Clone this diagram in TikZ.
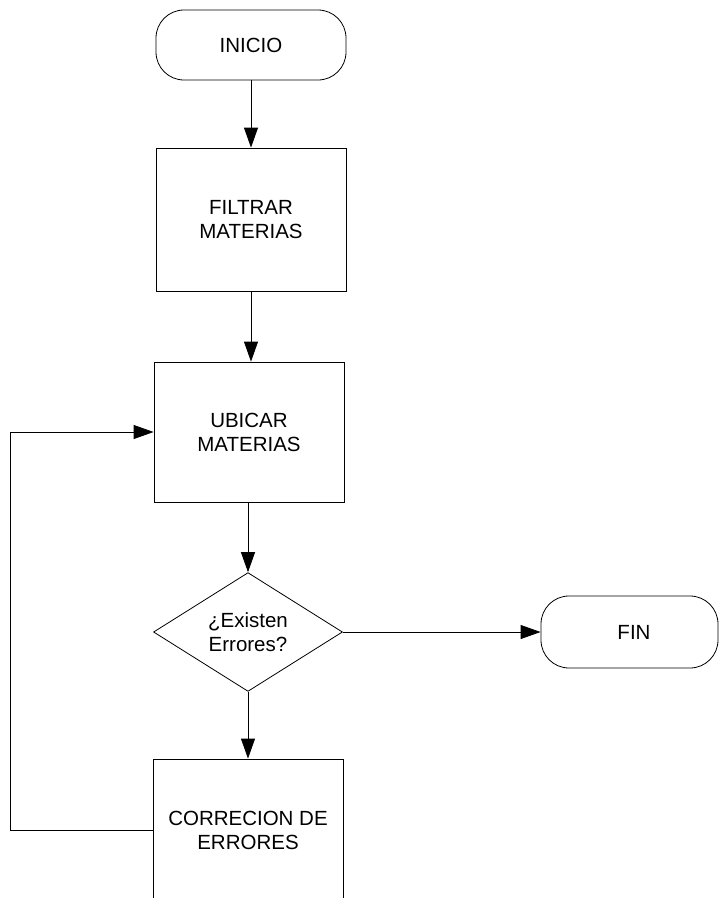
\documentclass[tikz,border=0pt]{standalone}
\usepackage{fontspec}
\setmainfont{Liberation Sans}
\usetikzlibrary{arrows.meta,shapes.geometric}
\tikzset{
  lbl/.style={font=\fontsize{20.5}{24}\selectfont, align=center, text=black},
  term/.style={lbl, draw, line width=0.8pt, rounded corners=28pt, inner sep=0pt},
  proc/.style={lbl, draw, line width=0.8pt, inner sep=0pt, minimum width=190pt},
  decis/.style={lbl, draw, diamond, line width=0.8pt, inner sep=0pt, minimum width=189pt, minimum height=117pt},
  arr/.style={line width=0.8pt, -{Triangle[length=20pt,width=14pt]}},
  conn/.style={line width=0.8pt}
}
\begin{document}
\begin{tikzpicture}[x=1pt,y=-1pt]
\useasboundingbox (0,0) rectangle (719,898);
\clip (0,0) rectangle (719,898);
\node[term, minimum width=190pt, minimum height=70pt] (ini) at (251,45) {INICIO};
\node[proc, minimum height=143pt] (filt) at (251,219.5) {FILTRAR\\MATERIAS};
\node[proc, minimum height=140pt] (ubic) at (249,432) {UBICAR\\MATERIAS};
\node[decis] (dec) at (248,632) {¿Existen\\Errores?};
\node[term, minimum width=177pt, minimum height=72pt] (fin) at (629.5,632) {\hspace*{9pt}FIN};
\node[proc, minimum height=142pt] (corr) at (248,830) {CORRECION DE\\ERRORES};
\coordinate (lx) at (10,0);
\draw[arr] (ini.south) -- (filt.north);
\draw[arr] (filt.south) -- (filt.south |- ubic.north);
\draw[arr] (ubic.south -| dec.north) -- (dec.north);
\draw[arr] (dec.east) -- (fin.west);
\draw[arr] (dec.south) -- (corr.north);
\draw[arr] (corr.west) -- (corr.west -| lx) |- (ubic.west);
\end{tikzpicture}
\end{document}
